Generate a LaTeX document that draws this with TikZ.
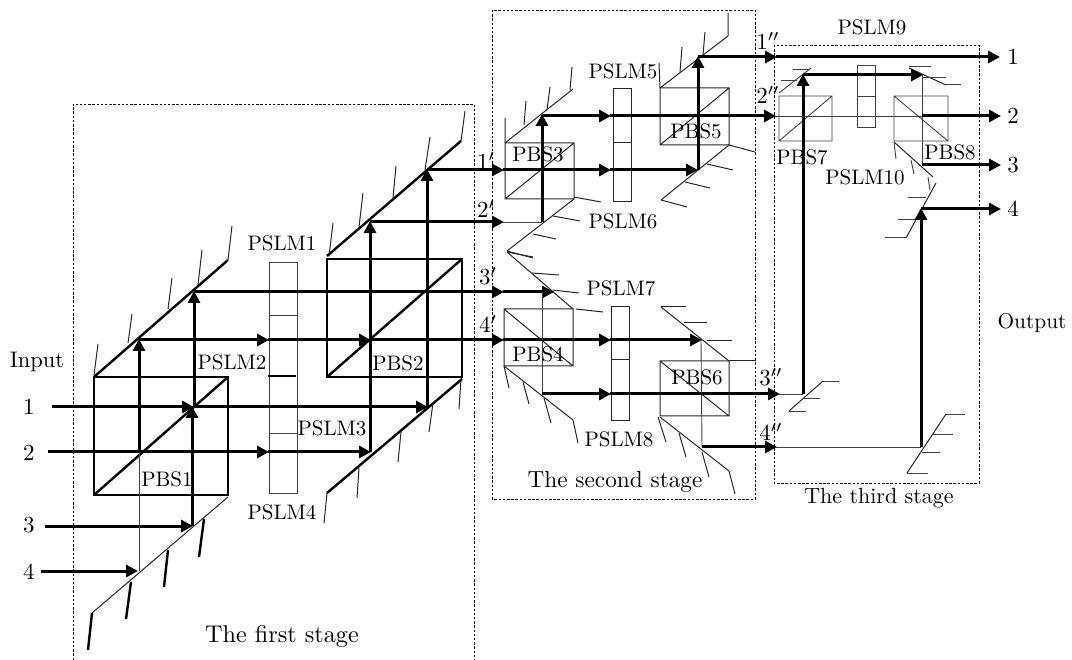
\documentclass[tikz,border=0pt]{standalone}
\usetikzlibrary{arrows.meta}
\tikzset{
  x=1pt,y=-1pt,
  every node/.style={inner sep=0pt,font=\fontsize{10}{12}\selectfont},
  lab/.style={scale=2.1},
  num/.style={scale=2.3},
  title/.style={scale=2.33},
  beam/.style={line width=3pt,black},
  ray/.style={beam,-{Triangle[length=12pt,width=12pt]},shorten >=-1pt},
  faint/.style={line width=0.9pt,black!75},
  heavy/.style={line width=2.4pt,black},
  light/.style={line width=1pt,black!85},
  stagebox/.style={line width=0.9pt,black,dash pattern=on 2.5pt off 1.7pt},
}
\begin{document}
\begin{tikzpicture}
\useasboundingbox (0,0) rectangle (1072,660);
% stage frames
\draw[stagebox] (73,660) -- (73,104) -- (474,104) -- (474,660);
\draw[stagebox] (492,10) rectangle (755,499);
\draw[stagebox] (774,45) rectangle (979,483);
% ---- stage 1: PBS1 and PBS2
\draw[heavy] (94,377) rectangle (228,495);
\draw[heavy] (94,495) -- (228,377);
\draw[heavy] (94,377) -- (228,260);
\draw[light] (94,375)--(98,344) (128,343)--(132,314) (168,309)--(172,278) (198,285)--(202,250) (228,260)--(232,226);
\draw[light] (228,497) -- (92,613);
\draw[heavy] (92,613)--(88,650) (131,582)--(126,619) (168,550)--(164,587) (204,519)--(199,557);
\draw[heavy] (327,259) rectangle (462,377);
\draw[heavy] (327,377) -- (462,259);
\draw[heavy] (327,256) -- (461,141);
\draw[light] (329,256)--(333,223) (359,227)--(363,193) (393,198)--(396,166) (425,170)--(430,137) (461,141)--(465,111);
\draw[heavy] (462,379) -- (327,493);
\draw[light] (461,379)--(459,409) (433,403)--(429,432) (401,432)--(398,462) (359,468)--(357,498) (327,493)--(324,523);
% PSLM1-4 bar
\draw[faint] (269,262) rectangle (297,493);
\draw[faint] (269,315)--(297,315) (269,433)--(297,433);
\draw[heavy] (268,376)--(296,376);
% ---- stage 2 cubes
\draw[light] (505,143) rectangle (574,199) (505,199)--(574,143);
\draw[light] (505,143)--(573,89);
\draw[light] (505,143)--(505,118) (524,125)--(526,101) (547,110)--(550,87) (570,90)--(572,67);
\draw[light] (574,199)--(507,251);
\draw[light] (574,197)--(601,202) (553,216)--(580,221) (533,234)--(556,239) (507,251)--(533,258);
\draw[light] (507,252)--(573,309);
\draw[light] (576,309)--(603,312) (553,290)--(579,293) (532,273)--(559,275) (507,252)--(533,257);
\draw[light] (504,309) rectangle (573,366) (504,309)--(573,366);
\draw[light] (504,366)--(573,420);
\draw[light] (504,366)--(509,388) (523,382)--(529,404) (544,398)--(551,423) (573,420)--(578,443);
\draw[light] (613,89) rectangle (631,202) (613,143)--(631,143);
\draw[light] (611,307) rectangle (629,421) (611,360)--(629,360);
\draw[light] (660,88) rectangle (729,145) (660,145)--(729,88);
\draw[light] (660,88)--(728,36);
\draw[light] (660,88)--(659,63) (680,72)--(682,47) (703,55)--(705,32) (728,36)--(728,13);
\draw[light] (729,145)--(661,200);
\draw[light] (729,145)--(755,152) (707,164)--(733,170) (685,182)--(710,188) (661,200)--(687,207);
\draw[light] (660,361) rectangle (729,416) (660,361)--(729,416);
\draw[light] (661,307)--(729,361);
\draw[light] (661,307)--(686,307) (684,323)--(707,323) (707,341)--(732,341) (729,361)--(755,361);
\draw[light] (660,417)--(729,471);
\draw[light] (658,417)--(666,442) (679,433)--(686,457) (702,452)--(709,477) (729,471)--(735,494);
% ---- stage 3 cubes
\draw[faint] (779,96) rectangle (832,141) (779,141)--(832,96);
\draw[faint] (779,93)--(811,68);
\draw[faint] (781,80)--(797,80) (793,69)--(810,69);
\draw[faint] (857,65) rectangle (875,127) (857,96)--(875,96);
\draw[faint] (894,96) rectangle (948,141) (894,96)--(948,141);
\draw[light] (909,68)--(946,85);
\draw[faint] (909,66)--(931,66) (923,77)--(946,77) (946,84)--(961,84);
\draw[light] (894,142)--(933,177);
\draw[faint] (894,142)--(896,159) (911,160)--(914,174) (928,177)--(930,190);
\draw[light] (936,183)--(906,238);
\draw[faint] (926,197)--(908,197) (917,219)--(898,219) (906,237)--(885,237);
\draw[light] (823,381)--(789,411);
\draw[faint] (823,381)--(839,381) (803,398)--(820,398) (789,411)--(806,411);
\draw[light] (946,414)--(907,473);
\draw[faint] (946,414)--(965,414) (933,434)--(953,434) (922,452)--(940,452) (907,473)--(928,473);
% ---- beam junctions
\coordinate (i1) at (52,407);   \coordinate (m1) at (193,407);  \coordinate (m1b) at (427,407);
\coordinate (i2) at (48,452);   \coordinate (s2) at (268,452);  \coordinate (m2) at (370,452);
\coordinate (i3) at (45,526);   \coordinate (m3) at (192,526);  \coordinate (u3) at (194,292);
\coordinate (i4) at (41,571);   \coordinate (m4) at (137,571);  \coordinate (c4) at (139,452);
\coordinate (u4) at (139,340);  \coordinate (s4) at (268,340);  \coordinate (c4b) at (370,340);
\coordinate (o4) at (503,340);  \coordinate (s3) at (503,292);  \coordinate (t3) at (553,292);
\coordinate (u1) at (427,170);  \coordinate (u2) at (370,222);
\coordinate (o1) at (503,170);  \coordinate (o2) at (503,222);
% stage 1 beams
\draw[ray] (i1) -- (m1);
\draw[ray] (m1) -- (m1b);
\draw[ray] (i2) -- (s2);
\draw[ray] (s2) -- (m2);
\draw[ray] (i3) -- (m3);
\draw[ray] (192,526) -- (192,407);
\draw[ray] (194,407) -- (u3);
\draw[ray] (i4) -- (m4);
\draw[faint] (139,571) -- (c4);
\draw[ray] (c4) -- (u4);
\draw[ray] (u4) -- (s4);
\draw[ray] (s4) -- (c4b);
\draw[ray] (c4b) -- (o4);
\draw[ray] (u3) -- (s3);
\draw[ray] (s3) -- (t3);
\draw[ray] (m2) -- (u2);
\draw[ray] (m1b) -- (u1);
\draw[ray] (u1) -- (o1);
\draw[ray] (u2) -- (o2);
% stage 2 beams
\coordinate (b3) at (542,222);  \coordinate (t1) at (542,115);
\coordinate (p1) at (610,116);  \coordinate (n2) at (775,116);  \coordinate (k2) at (922,116);
\coordinate (p2) at (610,170);  \coordinate (q2) at (697,170);  \coordinate (r2) at (698,57);
\coordinate (n1) at (776,57);   \coordinate (e1) at (999,57);
\coordinate (p4) at (610,340);  \coordinate (q4) at (701,340);  \coordinate (d4) at (702,447);
\coordinate (n4) at (776,447);  \coordinate (k4) at (921,447);  \coordinate (a4) at (921,209);
\coordinate (e4) at (1000,209);
\coordinate (d3) at (542,394);  \coordinate (p3) at (610,394);  \coordinate (n3) at (779,394);
\coordinate (k3) at (803,394);  \coordinate (a3) at (803,75);   \coordinate (j3) at (922,75);
\coordinate (e2) at (1000,116); \coordinate (k5) at (922,165);  \coordinate (e3) at (1000,165);
\draw[faint] (o2) -- (b3);
\draw[ray] (b3) -- (t1);
\draw[ray] (542,116) -- (p1);
\draw[ray] (p1) -- (n2);
\draw[ray] (o1) -- (p2);
\draw[ray] (p2) -- (q2);
\draw[ray] (698,170) -- (r2);
\draw[ray] (r2) -- (n1);
\draw[ray] (n1) -- (e1);
\draw[ray] (o4) -- (p4);
\draw[ray] (p4) -- (q4);
\draw[faint] (q4) -- (d4);
\draw[ray] (d4) -- (n4);
\draw[faint] (n4) -- (k4);
\draw[ray] (k4) -- (a4);
\draw[ray] (a4) -- (e4);
\draw[faint] (t3 -| b3) -- (d3);
\draw[ray] (d3) -- (p3);
\draw[ray] (p3) -- (n3);
\draw[faint] (n3) -- (k3);
\draw[ray] (k3) -- (a3);
\draw[ray] (a3) -- (j3);
\draw[faint] (n2) -- (k2);
\draw[faint] (j3) -- (k5);
\draw[ray] (k2) -- (e2);
\draw[ray] (k5) -- (e3);
% ---- labels
\node[scale=2.25] (lIn) at (37,362) {Input};
\node[num] (lI1) at (29,407) {1};
\node[num] (lI2) at (29,453) {2};
\node[num] (lI3) at (29,525) {3};
\node[num] (lI4) at (29,572) {4};
\node[scale=2.14] (lO) at (1032,323) {Output};
\node[num] (lO1) at (1013,57) {1};
\node[num] (lO2) at (1013,116) {2};
\node[num] (lO3) at (1013,165) {3};
\node[num] (lO4) at (1013,209) {4};
\node[num] (p1a) at (486,161) {$1'$};
\node[num] (p2a) at (486,209) {$2'$};
\node[num] (p3a) at (488,276) {$3'$};
\node[num] (p4a) at (488,324) {$4'$};
\node[num] (d1a) at (768,41) {$1''$};
\node[num] (d2a) at (768,95) {$2''$};
\node[num] (d3a) at (771,377) {$3''$};
\node[num] (d4a) at (771,432) {$4''$};
\node[lab] (PB1) at (167,479) {PBS1};
\node[lab] (PB2) at (398,363) {PBS2};
\node[lab] (PB3) at (538,154) {PBS3};
\node[lab] (PB4) at (538,354) {PBS4};
\node[lab] (PB5) at (696,131) {PBS5};
\node[lab] (PB6) at (697,377) {PBS6};
\node[lab] (PB7) at (802,157) {PBS7};
\node[lab] (PB8) at (950,152) {PBS8};
\node[lab] (SL1) at (282,243) {PSLM1};
\node[lab] (SL2) at (232,362) {PSLM2};
\node[lab] (SL3) at (332,428) {PSLM3};
\node[lab] (SL4) at (282,512) {PSLM4};
\node[lab] (SL5) at (623,71) {PSLM5};
\node[lab] (SL6) at (623,221) {PSLM6};
\node[lab] (SL7) at (621,288) {PSLM7};
\node[lab] (SL8) at (619,439) {PSLM8};
\node[lab] (SL9) at (872,27) {PSLM9};
\node[lab] (SL10) at (865,177) {PSLM10};
\node[scale=2.42] (S1) at (282,636) {The first stage};
\node[title] (S2) at (615,482) {The second stage};
\node[scale=2.2] (S3) at (879,498) {The third stage};
\end{tikzpicture}
\end{document}
